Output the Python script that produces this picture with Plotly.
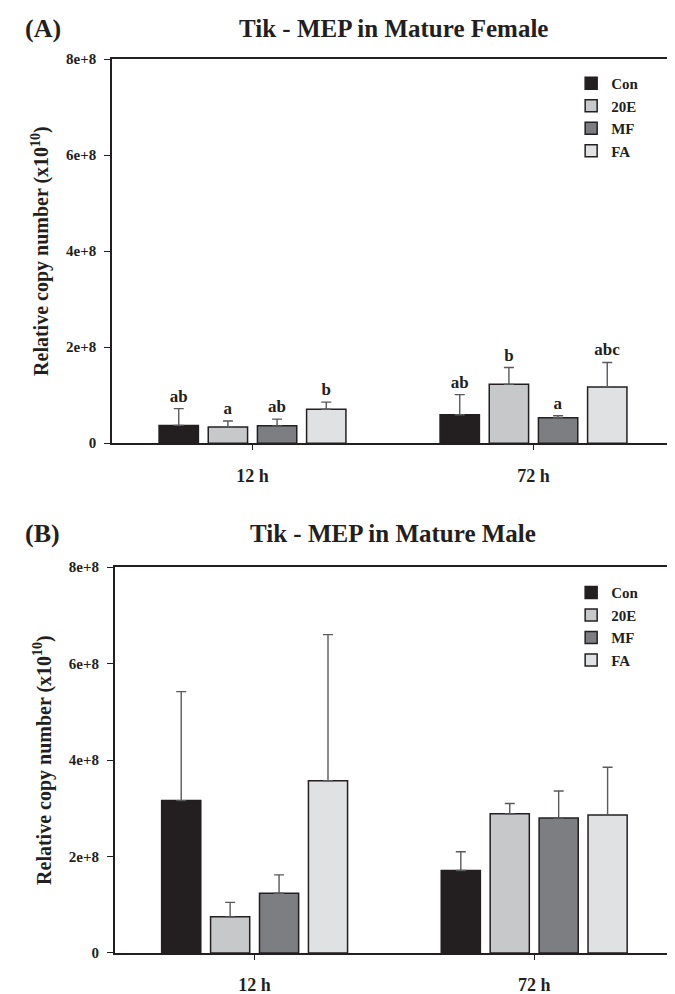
import plotly.graph_objects as go

categories = ["12 h", "72 h"]
treatments = ["Con", "20E", "MF", "FA"]
bar_colors = ["#231f20", "#c7c8ca", "#7d7e82", "#e0e1e3"]

# Panel A: Tik - MEP in Mature Female (means and upper SE)
female_con = [3.7e7, 5.9e7]
female_20e = [3.35e7, 1.225e8]
female_mf = [3.6e7, 5.3e7]
female_fa = [7.05e7, 1.17e8]
female_con_err = [3.5e7, 4.2e7]
female_20e_err = [1.25e7, 3.5e7]
female_mf_err = [1.4e7, 0.4e7]
female_fa_err = [1.5e7, 5.1e7]
female_con_sig = ["ab", "ab"]
female_20e_sig = ["a", "b"]
female_mf_sig = ["ab", "a"]
female_fa_sig = ["b", "abc"]

# Panel B: Tik - MEP in Mature Male
male_con = [3.16e8, 1.71e8]
male_20e = [0.75e8, 2.885e8]
male_mf = [1.24e8, 2.80e8]
male_fa = [3.57e8, 2.86e8]
male_con_err = [2.26e8, 0.39e8]
male_20e_err = [0.30e8, 0.215e8]
male_mf_err = [0.38e8, 0.56e8]
male_fa_err = [3.03e8, 0.99e8]

y_tickvals = [0, 2e8, 4e8, 6e8, 8e8]
y_ticktext = ["0", "2e+8", "4e+8", "6e+8", "8e+8"]

FONT = "Liberation Serif"
INK = "#231f20"

female_vals = [female_con, female_20e, female_mf, female_fa]
female_errs = [female_con_err, female_20e_err, female_mf_err, female_fa_err]
female_sigs = [female_con_sig, female_20e_sig, female_mf_sig, female_fa_sig]
male_vals = [male_con, male_20e, male_mf, male_fa]
male_errs = [male_con_err, male_20e_err, male_mf_err, male_fa_err]

fig = go.Figure()

def add_panel(vals, errs, sigs, xa, ya, legend_name):
    for i, name in enumerate(treatments):
        fig.add_trace(go.Bar(
            x=categories, y=vals[i], name=name,
            marker=dict(color=bar_colors[i], line=dict(color=INK, width=1.5)),
            error_y=dict(type="data", symmetric=False, array=errs[i],
                         arrayminus=[0] * len(errs[i]),
                         color="#58595b", thickness=1.4, width=5),
            offsetgroup=name, xaxis=xa, yaxis=ya, legend=legend_name,
            hoverinfo="skip",
        ))
        if sigs is not None:
            tops = [v + e for v, e in zip(vals[i], errs[i])]
            fig.add_trace(go.Bar(
                x=categories, y=tops, text=sigs[i], textposition="outside",
                textfont=dict(family=FONT, size=17, color=INK, weight="bold"),
                constraintext="none", cliponaxis=False,
                marker=dict(color="rgba(0,0,0,0)", line=dict(width=0)),
                offsetgroup=name, xaxis=xa, yaxis=ya, showlegend=False,
                hoverinfo="skip",
            ))

add_panel(female_vals, female_errs, female_sigs, "x", "y", "legend")
add_panel(male_vals, male_errs, None, "x2", "y2", "legend2")

xcommon = dict(type="category", range=[-0.5, 1.5], showline=True, linecolor=INK,
               linewidth=1.5, mirror=True, ticks="outside", ticklen=5,
               tickcolor=INK, tickwidth=1, showgrid=False, zeroline=False,
               ticklabelstandoff=10,
               tickfont=dict(family=FONT, size=18, color=INK, weight="bold"))
ycommon = dict(range=[0, 8e8], tickvals=y_tickvals, ticktext=y_ticktext,
               showline=True, linecolor=INK, linewidth=1.5, mirror=True,
               ticks="outside", ticklen=6, tickcolor=INK, tickwidth=1,
               showgrid=False, zeroline=False, ticklabelstandoff=5,
               tickfont=dict(family=FONT, size=15, color=INK, weight="bold"),
               title=dict(text="Relative copy number (x10<sup>10</sup>)",
                          font=dict(family=FONT, size=20, color=INK, weight="bold"),
                          standoff=12))

legcommon = dict(x=0.817, xanchor="left", yanchor="top", bgcolor="rgba(0,0,0,0)",
                 font=dict(family=FONT, size=15, color=INK, weight="bold"),
                 traceorder="normal")

fig.update_layout(
    width=675, height=994,
    margin=dict(l=104, r=7, t=51, b=37),
    paper_bgcolor="white", plot_bgcolor="white",
    barmode="group", bargap=0.3, bargroupgap=0.2,
    xaxis=dict(domain=[0, 1], anchor="y", **xcommon),
    yaxis=dict(domain=[0.5703, 1.0], anchor="x", **ycommon),
    xaxis2=dict(domain=[0.005, 1], anchor="y2", **xcommon),
    yaxis2=dict(domain=[0, 0.4316], anchor="x2", **ycommon),
    legend=dict(y=0.991, **legcommon),
    legend2=dict(y=0.4215, **legcommon),
    annotations=[
        dict(text="(A)", x=-0.158, y=1.034, xref="paper", yref="paper",
             xanchor="left", yanchor="middle", showarrow=False,
             font=dict(family=FONT, size=26, color=INK, weight="bold")),
        dict(text="Tik - MEP in Mature Female", x=0.5, y=1.034, xref="paper",
             yref="paper", xanchor="center", yanchor="middle", showarrow=False,
             font=dict(family=FONT, size=25, color=INK, weight="bold")),
        dict(text="(B)", x=-0.158, y=0.4691, xref="paper", yref="paper",
             xanchor="left", yanchor="middle", showarrow=False,
             font=dict(family=FONT, size=26, color=INK, weight="bold")),
        dict(text="Tik - MEP in Mature Male", x=0.5, y=0.4691, xref="paper",
             yref="paper", xanchor="center", yanchor="middle", showarrow=False,
             font=dict(family=FONT, size=25, color=INK, weight="bold")),
    ],
)

fig.write_html("out.html")
